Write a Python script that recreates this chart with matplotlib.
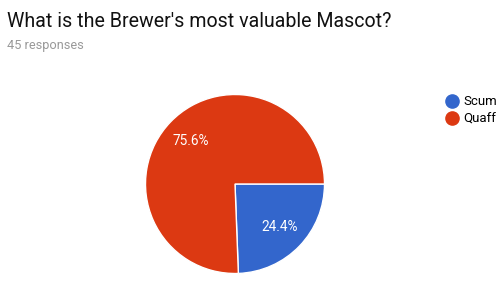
import matplotlib.pyplot as plt
from matplotlib.lines import Line2D

# survey answers
labels = ["Scum", "Quaff"]
shares = [24.4, 75.6]
colors = ["#3366cc", "#dc3912"]

title = "What is the Brewer's most valuable Mascot?"
subtitle = "45 responses"

plt.rcParams['font.family'] = ['Roboto', 'DejaVu Sans']

W, H = 504, 286
fig = plt.figure(figsize=(W / 100, H / 100), dpi=100)

# pie axes, placed in pixels (center ~ (235,184), radius ~89.5)
cx, cy, r = 235, 184, 89.5
ax = fig.add_axes([(cx - r) / W, (H - cy - r) / H, 2 * r / W, 2 * r / H])
wedges, texts, autotexts = ax.pie(
    shares, colors=colors, startangle=0, counterclock=False,
    autopct="%.1f%%", pctdistance=0.69, radius=1,
    wedgeprops=dict(edgecolor="white", linewidth=1),
    textprops=dict(color="white", fontsize=9.8))
ax.set_xlim(-1, 1)
ax.set_ylim(-1, 1)
ax.set_aspect("equal")
ax.axis("off")

fig.text(7 / W, 1 - 27 / H, title, fontsize=14.1, color="#111111", va="baseline")
fig.text(7 / W, 1 - 49 / H, subtitle, fontsize=9.2, color="#999999", va="baseline")

handles = [Line2D([], [], marker="o", linestyle="", markersize=9.5,
                  markerfacecolor=c, markeredgecolor=c) for c in colors]
fig.legend(handles, labels, loc="upper left", bbox_to_anchor=(437 / W, 1 - 90 / H),
           frameon=False, fontsize=9.5, handletextpad=0.1, labelspacing=0.35,
           borderaxespad=0, handlelength=1.5)

fig.savefig("out.png", dpi=100)
